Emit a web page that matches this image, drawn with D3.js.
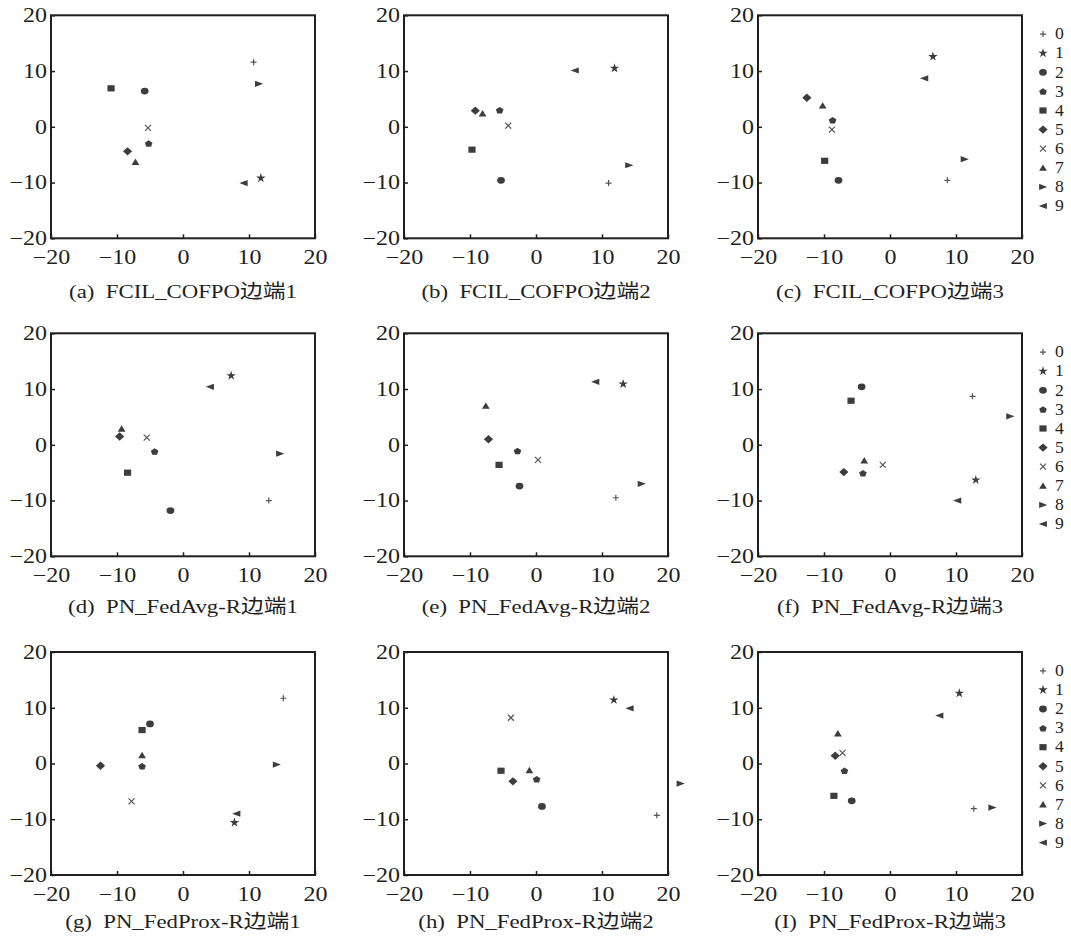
<!DOCTYPE html>
<html>
<head>
<meta charset="utf-8">
<script src="https://cdn.jsdelivr.net/npm/d3@7"></script>
<style>
  body { margin: 0; background: #fff; }
  text { font-family: "Liberation Serif", "Noto Sans CJK SC", serif; fill: #231f20; }
</style>
</head>
<body>
<div id="chart"></div>
<script>
// class labels shown in the legend
const classes = ["0", "1", "2", "3", "4", "5", "6", "7", "8", "9"]

// panel captions, row by row
const captions = [
    "(a)  FCIL_COFPO边端1", "(b)  FCIL_COFPO边端2", "(c)  FCIL_COFPO边端3",
    "(d)  PN_FedAvg-R边端1", "(e)  PN_FedAvg-R边端2", "(f)  PN_FedAvg-R边端3",
    "(g)  PN_FedProx-R边端1", "(h)  PN_FedProx-R边端2", "(I)  PN_FedProx-R边端3",
]

const tickValues = [-20, -10, 0, 10, 20]

// embedded points [x, y] per class 0..9
const fcil1 = [[10.7, 11.6], [11.8, -9.2], [-5.8, 6.4], [-5.2, -3.0], [-10.9, 6.9], [-8.4, -4.4], [-5.3, -0.2], [-7.2, -6.3], [11.5, 7.7], [9.2, -10.1]]
const fcil2 = [[11.0, -10.1], [11.9, 10.5], [-5.3, -9.6], [-5.5, 3.0], [-9.7, -4.1], [-9.2, 2.9], [-4.2, 0.2], [-8.1, 2.4], [14.1, -6.9], [5.9, 10.1]]
const fcil3 = [[8.7, -9.6], [6.5, 12.6], [-7.8, -9.6], [-8.7, 1.2], [-9.9, -6.1], [-12.6, 5.2], [-8.8, -0.5], [-10.2, 3.8], [11.3, -5.8], [5.2, 8.7]]
const avg1 = [[13.0, -10.0], [7.3, 12.4], [-1.9, -11.8], [-4.3, -1.2], [-8.4, -5.0], [-9.6, 1.5], [-5.5, 1.3], [-9.3, 2.9], [14.7, -1.6], [4.1, 10.4]]
const avg2 = [[12.1, -9.5], [13.2, 10.9], [-2.5, -7.4], [-2.8, -1.1], [-5.6, -3.6], [-7.2, 1.0], [0.3, -2.7], [-7.6, 7.0], [16.0, -7.0], [9.0, 11.3]]
const avg3 = [[12.5, 8.7], [13.0, -6.3], [-4.3, 10.4], [-4.1, -5.1], [-5.9, 7.9], [-7.0, -4.9], [-1.1, -3.6], [-3.9, -2.8], [18.2, 5.1], [10.2, -10.0]]
const prox1 = [[15.2, 11.7], [7.8, -10.6], [-5.0, 7.1], [-6.2, -0.5], [-6.2, 6.0], [-12.5, -0.4], [-7.8, -6.8], [-6.2, 1.5], [14.2, -0.2], [8.1, -9.0]]
const prox2 = [[18.3, -9.3], [11.8, 11.4], [0.9, -7.7], [0.1, -2.8], [-5.3, -1.3], [-3.5, -3.2], [-3.8, 8.2], [-1.0, -1.2], [21.9, -3.6], [14.2, 9.9]]
const prox3 = [[12.7, -8.1], [10.5, 12.6], [-5.8, -6.7], [-6.9, -1.3], [-8.5, -5.8], [-8.3, 1.4], [-7.2, 1.9], [-7.9, 5.4], [15.5, -7.9], [7.5, 8.6]]

const panels = [fcil1, fcil2, fcil3, avg1, avg2, avg3, prox1, prox2, prox3]

const width = 1071, height = 942
const colLeft = [51, 404, 758]
const rowTop = [15.3, 333.3, 652]
const captionY = [292, 607, 922]
const plotW = 264, plotH = 223
const ink = "#231f20", markFill = "#3d3d3d", markLine = "#555555"

// marker paths, one per class
const pentagon = () => {
    const pts = d3.range(5).map(i => {
        const a = -Math.PI / 2 + i * 2 * Math.PI / 5
        return [Math.cos(a) * 4.0, Math.sin(a) * 3.6 + 0.4]
    })
    return "M" + pts.map(p => p.join(",")).join("L") + "Z"
}
const shapes = [
    {d: "M-3,0H3M0,-3V3", stroke: true},
    {d: d3.symbol(d3.symbolStar, 28)(), stroke: false},
    {d: "M-3.9,0A3.9,3.4 0 1,0 3.9,0A3.9,3.4 0 1,0 -3.9,0Z", stroke: false},
    {d: pentagon(), stroke: false},
    {d: "M-3.6,-3.1H3.6V3.1H-3.6Z", stroke: false},
    {d: "M0,-4.2L4.6,0L0,4.2L-4.6,0Z", stroke: false},
    {d: "M-3,-3L3,3M-3,3L3,-3", stroke: true},
    {d: "M0,-3.4L3.9,3L-3.9,3Z", stroke: false},
    {d: "M-3.9,-3.1L4.3,0L-3.9,3.1Z", stroke: false},
    {d: "M3.9,-3.1L-4.3,0L3.9,3.1Z", stroke: false},
]

const drawMarker = (sel, i) => {
    const s = shapes[i]
    sel.append("path")
        .attr("d", s.d)
        .attr("fill", s.stroke ? "none" : markFill)
        .attr("stroke", s.stroke ? markLine : "none")
        .attr("stroke-width", s.stroke ? 1.2 : 0)
}

const svg = d3.select("#chart")
    .append("svg")
    .attr("width", width)
    .attr("height", height)

const x = d3.scaleLinear().domain([-20, 20]).range([0, plotW])
const y = d3.scaleLinear().domain([-20, 20]).range([plotH, 0])

panels.forEach((points, p) => {
    const col = p % 3, row = Math.floor(p / 3)
    const g = svg.append("g")
        .attr("transform", `translate(${colLeft[col]},${rowTop[row]})`)

    // bottom axis, ticks pointing inwards
    const xAxis = g.append("g")
        .attr("transform", `translate(0,${plotH})`)
        .call(d3.axisBottom(x).tickValues(tickValues).tickSize(-4).tickPadding(12))
    xAxis.select(".domain").remove()
    xAxis.selectAll("line").attr("stroke", ink).attr("stroke-width", 1.5)
    xAxis.selectAll("text")
        .attr("font-size", 20)
        .attr("font-family", "Liberation Serif")
        .attr("fill", ink)
        .attr("transform", "scale(1.2,1)")

    const yAxis = g.append("g")
        .call(d3.axisLeft(y).tickValues(tickValues).tickSize(-4).tickPadding(4))
    yAxis.select(".domain").remove()
    yAxis.selectAll("line").attr("stroke", ink).attr("stroke-width", 1.5)
    yAxis.selectAll("text")
        .attr("font-size", 20)
        .attr("font-family", "Liberation Serif")
        .attr("fill", ink)
        .attr("x", 0)
        .attr("transform", "translate(-4,0) scale(1.2,1)")

    g.append("rect")
        .attr("width", plotW)
        .attr("height", plotH)
        .attr("fill", "none")
        .attr("stroke", ink)
        .attr("stroke-width", 2)

    points.forEach((pt, i) => {
        const m = g.append("g")
            .attr("transform", `translate(${x(pt[0])},${y(pt[1])})`)
        drawMarker(m, i)
    })

    svg.append("text")
        .attr("transform", `translate(${colLeft[col] + plotW / 2},${captionY[row]}) scale(1.2,1)`)
        .attr("text-anchor", "middle")
        .attr("dominant-baseline", "central")
        .attr("font-size", 19)
        .style("white-space", "pre")
        .text(captions[p])

    // legend to the right of each row
    if (col === 2) {
        const lg = svg.append("g")
            .attr("transform", `translate(1043,${rowTop[row] + 18.8})`)
        classes.forEach((c, i) => {
            const item = lg.append("g").attr("transform", `translate(0,${i * 19.1})`)
            drawMarker(item, i)
            item.append("text")
                .attr("x", 11)
                .attr("dominant-baseline", "central")
                .attr("font-size", 16)
                .attr("transform", "scale(1.1,1)")
                .text(c)
        })
    }
})
</script>
</body>
</html>
